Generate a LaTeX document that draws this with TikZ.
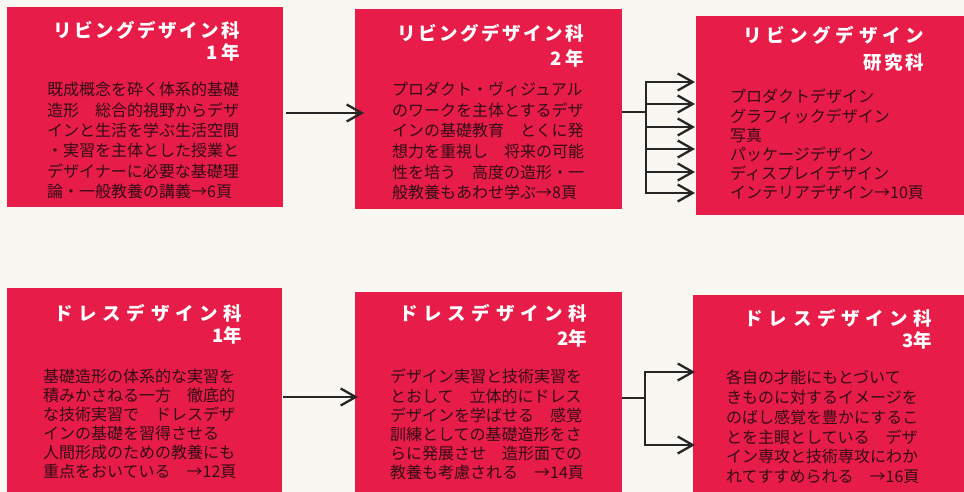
\documentclass[tikz,border=0pt]{standalone}
\usepackage{fontspec}
\newfontfamily\jp{Noto Sans CJK JP}
\usetikzlibrary{arrows.meta}
\definecolor{bg}{RGB}{248,247,242}
\definecolor{boxred}{RGB}{232,28,72}
\definecolor{ink}{RGB}{50,12,22}
\definecolor{arrowc}{RGB}{38,38,38}
\tikzset{
 box/.style={fill=boxred, draw=none, anchor=north west, inner sep=0pt, outer sep=0pt},
 ttl/.style={text=white, anchor=north east, align=right, inner sep=0pt, font=\jp\bfseries\fontsize{18.5}{#1}\selectfont},
 body/.style={text=ink, anchor=north west, align=left, inner sep=0pt, font=\jp\fontsize{16}{#1}\selectfont},
 ln/.style={draw=arrowc, line width=2.3pt, line join=miter},
 arr/.style={ln, -{Straight Barb[length=15pt,width=17pt]}},
}
\begin{document}
\begin{tikzpicture}[x=1pt,y=-1pt]
\fill[bg] (0,0) rectangle (964,492);
\useasboundingbox (0,0) rectangle (964,492);
% boxes
\node[box, minimum width=276pt, minimum height=200pt] (box1) at (7,7) {};
\node[box, minimum width=267pt, minimum height=200pt] (box2) at (355,9) {};
\node[box, minimum width=268pt, minimum height=199pt] (box3) at (696,16) {};
\node[box, minimum width=275pt, minimum height=204pt] (box4) at (7,288) {};
\node[box, minimum width=267pt, minimum height=200pt] (box5) at (355,292) {};
\node[box, minimum width=271pt, minimum height=197pt] (box6) at (693,295) {};
% titles
\node[ttl=22] (t1) at (240.5,20.7) {\addfontfeature{LetterSpace=14}リビングデザイン科\\1 年};
\node[ttl=25] (t2) at (584.5,23.7) {\addfontfeature{LetterSpace=14}リビングデザイン科\\2 年};
\node[ttl=27] (t3) at (924,25.7) {{\addfontfeature{LetterSpace=25}リビングデザイン}\\{\addfontfeature{LetterSpace=12}研究科}};
\node[ttl=22] (t4) at (242.5,303.7) {\addfontfeature{LetterSpace=31}ドレスデザイン科\\1年};
\node[ttl=25] (t5) at (587.5,303.7) {\addfontfeature{LetterSpace=31}ドレスデザイン科\\2年};
\node[ttl=22] (t6) at (932,308.7) {\addfontfeature{LetterSpace=30}ドレスデザイン科\\3年};
% bodies
\node[body=20.4] (b1) at (47,82) {既成概念を砕く体系的基礎\\造形　総合的視野からデザ\\インと生活を学ぶ生活空間\\・実習を主体とした授業と\\デザイナーに必要な基礎理\\論・一般教養の講義→6頁};
\node[body=20.6] (b2) at (392,82) {プロダクト・ヴィジュアル\\のワークを主体とするデザ\\インの基礎教育　とくに発\\想力を重視し　将来の可能\\性を培う　高度の造形・一\\般教養もあわせ学ぶ→8頁};
\node[body=19.2] (b3) at (730,89) {プロダクトデザイン\\グラフィックデザイン\\写真\\パッケージデザイン\\ディスプレイデザイン\\インテリアデザイン→10頁};
\node[body=19] (b4) at (43,369) {基礎造形の体系的な実習を\\積みかさねる一方　徹底的\\な技術実習で　ドレスデザ\\インの基礎を習得させる\\人間形成のための教養にも\\重点をおいている　→12頁};
\node[body=19.2] (b5) at (390,369) {デザイン実習と技術実習を\\とおして　立体的にドレス\\デザインを学ばせる　感覚\\訓練としての基礎造形をさ\\らに発展させ　造形面での\\教養も考慮される　→14頁};
\node[body=19.8] (b6) at (726,370) {各自の才能にもとづいて\\きものに対するイメージを\\のばし感覚を豊かにするこ\\とを主眼としている　デザ\\イン専攻と技術専攻にわか\\れてすすめられる　→16頁};
% connectors
\coordinate (a1) at (0,113);
\draw[arr] ([xshift=3pt]box1.east |- a1) -- ([xshift=9pt]box2.west |- a1);
\coordinate (a3) at (0,397);
\draw[arr] ([xshift=1pt]box4.east |- a3) -- ([xshift=3pt]box5.west |- a3);
% fan 1
\coordinate (j1) at (646,112);
\draw[ln] (box2.east |- j1) -- (j1);
\draw[arr] (j1) |- ([xshift=-1pt]box3.west |- 0,82);
\draw[arr] (j1) |- ([xshift=-1pt]box3.west |- 0,193);
\foreach \yy in {104,127,149,172}
  \draw[arr] (j1 |- 0,\yy) -- ([xshift=-1pt]box3.west |- 0,\yy);
% fan 2
\coordinate (j2) at (645,398);
\draw[ln] (box5.east |- j2) -- (j2);
\draw[arr] (j2) |- ([xshift=2pt]box6.west |- 0,372);
\draw[arr] (j2) |- ([xshift=2pt]box6.west |- 0,445);
\end{tikzpicture}
\end{document}
